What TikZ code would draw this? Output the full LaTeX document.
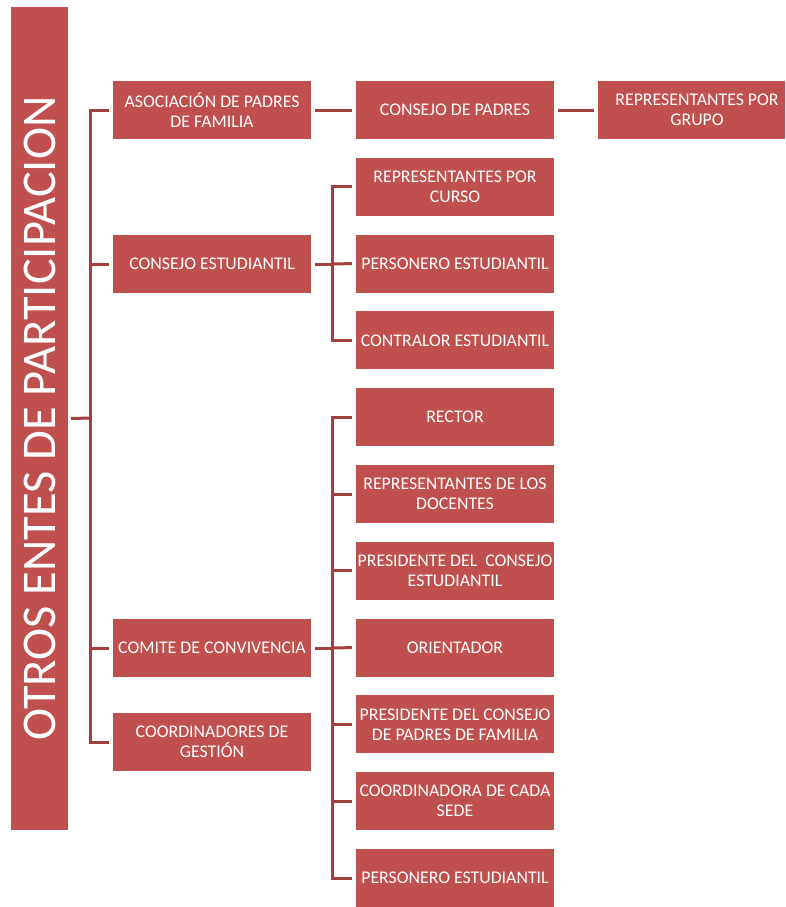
\documentclass[tikz,border=0pt]{standalone}
\usepackage{fontspec}
\setmainfont{Carlito}
\usepackage{xcolor}
\usetikzlibrary{positioning, calc}

\definecolor{rojoCaja}{HTML}{C0504D}
\definecolor{rojoLinea}{HTML}{A33F3C}

\tikzset{
	caja/.style={fill=rojoCaja, text=white, minimum width=198pt, minimum height=58pt,
		inner sep=1pt, align=center, outer xsep=4pt, font=\fontsize{17.8}{20}\selectfont},
	barra/.style={fill=rojoCaja, text=white, rotate=90, minimum width=823pt, minimum height=57pt,
		inner sep=0pt, outer sep=3pt, font=\fontsize{48.4}{56}\selectfont},
	rama/.style={draw=rojoLinea, line width=3pt}
}

\begin{document}
\begin{tikzpicture}[x=1pt, y=-1pt]
		\useasboundingbox (0,0) rectangle (785,907);
		\clip (0,0) rectangle (785,907);
		
		\node[barra] (titulo) at (39.5,418.5) {OTROS ENTES DE PARTICIPACION};
		
		% Primer nivel
		\node[caja] (asoc) at (212,110) {ASOCIACIÓN DE PADRES\\DE FAMILIA};
		\node[caja] (cestud) at (212,264) {CONSEJO ESTUDIANTIL};
		\node[caja] (comite) at (212,648) {COMITE DE CONVIVENCIA};
		\node[caja] (coord) at (212,742) {COORDINADORES DE\\GESTIÓN};
		
		% Segundo nivel
		\node[caja] (cpadres) at (455,110) {CONSEJO DE PADRES};
		\node[caja] (repcurso) at (455,186.8) {REPRESENTANTES POR\\CURSO};
		\node[caja] (personero) at (455,263.6) {PERSONERO ESTUDIANTIL};
		\node[caja] (contralor) at (455,340.4) {CONTRALOR ESTUDIANTIL};
		\node[caja] (rector) at (455,417.2) {RECTOR};
		\node[caja] (docentes) at (455,494) {REPRESENTANTES DE LOS\\DOCENTES};
		\node[caja] (presest) at (455,570.8) {PRESIDENTE DEL\ \ CONSEJO\\ESTUDIANTIL};
		\node[caja] (orientador) at (455,647.6) {ORIENTADOR};
		\node[caja] (prespad) at (455,724.4) {PRESIDENTE DEL CONSEJO\\DE PADRES DE FAMILIA};
		\node[caja] (sede) at (455,801.2) {COORDINADORA DE CADA\\SEDE};
		\node[caja] (personero2) at (455,878) {PERSONERO ESTUDIANTIL};
		
		% Tercer nivel
		\node[caja] (repgrupo) at (697,110) {REPRESENTANTES POR\\GRUPO};
		
		% Ramas
		\coordinate (tronco) at (90,418);
		\coordinate (ramaB) at (332,264);
		\coordinate (ramaC) at (332,648);
		
		\draw[rama] (titulo.south) -- (tronco);
		\draw[rama] (asoc.west) -| (tronco) |- (coord.west);
		\draw[rama] (tronco |- cestud.west) -- (cestud.west);
		\draw[rama] (tronco |- comite.west) -- (comite.west);
		
		\draw[rama] (asoc.east) -- (cpadres.west);
		\draw[rama] (cpadres.east) -- (repgrupo.west);
		
		\draw[rama] (cestud.east) -- (ramaB);
		\draw[rama] (repcurso.west) -| (ramaB) |- (contralor.west);
		\draw[rama] (ramaB) -- (personero.west);
		
		\draw[rama] (comite.east) -- (ramaC);
		\draw[rama] (rector.west) -| (ramaC) |- (personero2.west);
		\draw[rama] (ramaC |- docentes.west) -- (docentes.west);
		\draw[rama] (ramaC |- presest.west) -- (presest.west);
		\draw[rama] (ramaC) -- (orientador.west);
		\draw[rama] (ramaC |- prespad.west) -- (prespad.west);
		\draw[rama] (ramaC |- sede.west) -- (sede.west);
	  \end{tikzpicture}
\end{document}
